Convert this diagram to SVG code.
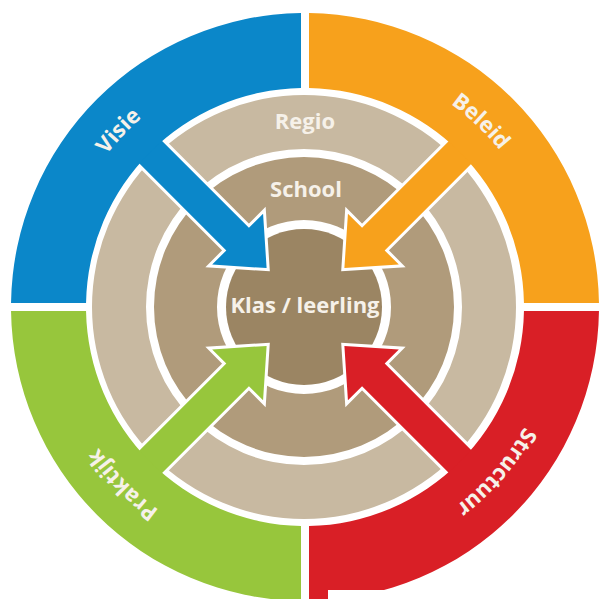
<svg xmlns="http://www.w3.org/2000/svg" xmlns:xlink="http://www.w3.org/1999/xlink" width="599" height="599" viewBox="0 0 599 599">
  <style>
    .lbl { font-family: "Open Sans", "Liberation Sans", sans-serif; font-weight: bold; font-size: 22px; fill: #f6f1e9; text-anchor: middle; }
    .arrow { stroke: #ffffff; stroke-width: 6; stroke-linejoin: miter; paint-order: stroke fill; }
    .ring { fill-rule: evenodd; }
  </style>
  <defs>
    <path id="arrowShape" d="M-250,-16 H-96 V-36 L-55,0 L-96,36 V16 H-250 Z"/>
    <path id="labelCircle" d="M55,307 A250,250 0 1 1 555,307 A250,250 0 1 1 55,307"/>
  </defs>
  <rect x="0" y="0" width="599" height="599" fill="#ffffff"/>

  <g id="node-regio">
    <path class="ring" fill="#c8b9a1" d="M92,307 A212,212 0 1 0 516,307 A212,212 0 1 0 92,307 Z M146,307 A158,158 0 1 1 462,307 A158,158 0 1 1 146,307 Z"/>
    <text class="lbl" x="305" y="129">Regio</text>
  </g>

  <g id="node-school">
    <path class="ring" fill="#b09b7b" d="M154,307 A150,150 0 1 0 454,307 A150,150 0 1 0 154,307 Z M217,307 A87,87 0 1 1 391,307 A87,87 0 1 1 217,307 Z"/>
    <text class="lbl" x="306" y="197">School</text>
  </g>

  <g id="node-klas">
    <circle cx="304" cy="307" r="78" fill="#9b8563"/>
  </g>

  <g id="connectors">
    <use href="#arrowShape" xlink:href="#arrowShape" class="arrow" fill="#0b87c9" transform="translate(305.5,307) rotate(45)"/>
    <use href="#arrowShape" xlink:href="#arrowShape" class="arrow" fill="#f7a11c" transform="translate(305.5,307) rotate(135)"/>
    <use href="#arrowShape" xlink:href="#arrowShape" class="arrow" fill="#d91f26" transform="translate(305.5,307) rotate(225)"/>
    <use href="#arrowShape" xlink:href="#arrowShape" class="arrow" fill="#97c63c" transform="translate(305.5,307) rotate(-45)"/>
  </g>

  <g id="node-klas-label">
    <text class="lbl" x="305" y="313">Klas / leerling</text>
  </g>

  <g id="node-visie">
    <path fill="#0b87c9" d="M11.03,303 A294,294 0 0 1 301,13.03 L301,88.04 A219,219 0 0 0 86.04,303 Z"/>
    <text class="lbl"><textPath href="#labelCircle" xlink:href="#labelCircle" startOffset="189">Visie</textPath></text>
  </g>

  <g id="node-beleid">
    <path fill="#f7a11c" d="M309,13.03 A294,294 0 0 1 598.97,303 L523.96,303 A219,219 0 0 0 309,88.04 Z"/>
    <text class="lbl"><textPath href="#labelCircle" xlink:href="#labelCircle" startOffset="582">Beleid</textPath></text>
  </g>

  <g id="node-structuur">
    <path fill="#d91f26" d="M598.97,311 A294,294 0 0 1 309,600.97 L309,525.96 A219,219 0 0 0 523.96,311 Z"/>
    <text class="lbl"><textPath href="#labelCircle" xlink:href="#labelCircle" startOffset="963">Structuur</textPath></text>
  </g>

  <g id="node-praktijk">
    <path fill="#97c63c" d="M301,600.97 A294,294 0 0 1 11.03,311 L86.04,311 A219,219 0 0 0 301,525.96 Z"/>
    <text class="lbl"><textPath href="#labelCircle" xlink:href="#labelCircle" startOffset="1377">Praktijk</textPath></text>
  </g>

  <rect x="328" y="590" width="271" height="9" fill="#ffffff"/>
</svg>
